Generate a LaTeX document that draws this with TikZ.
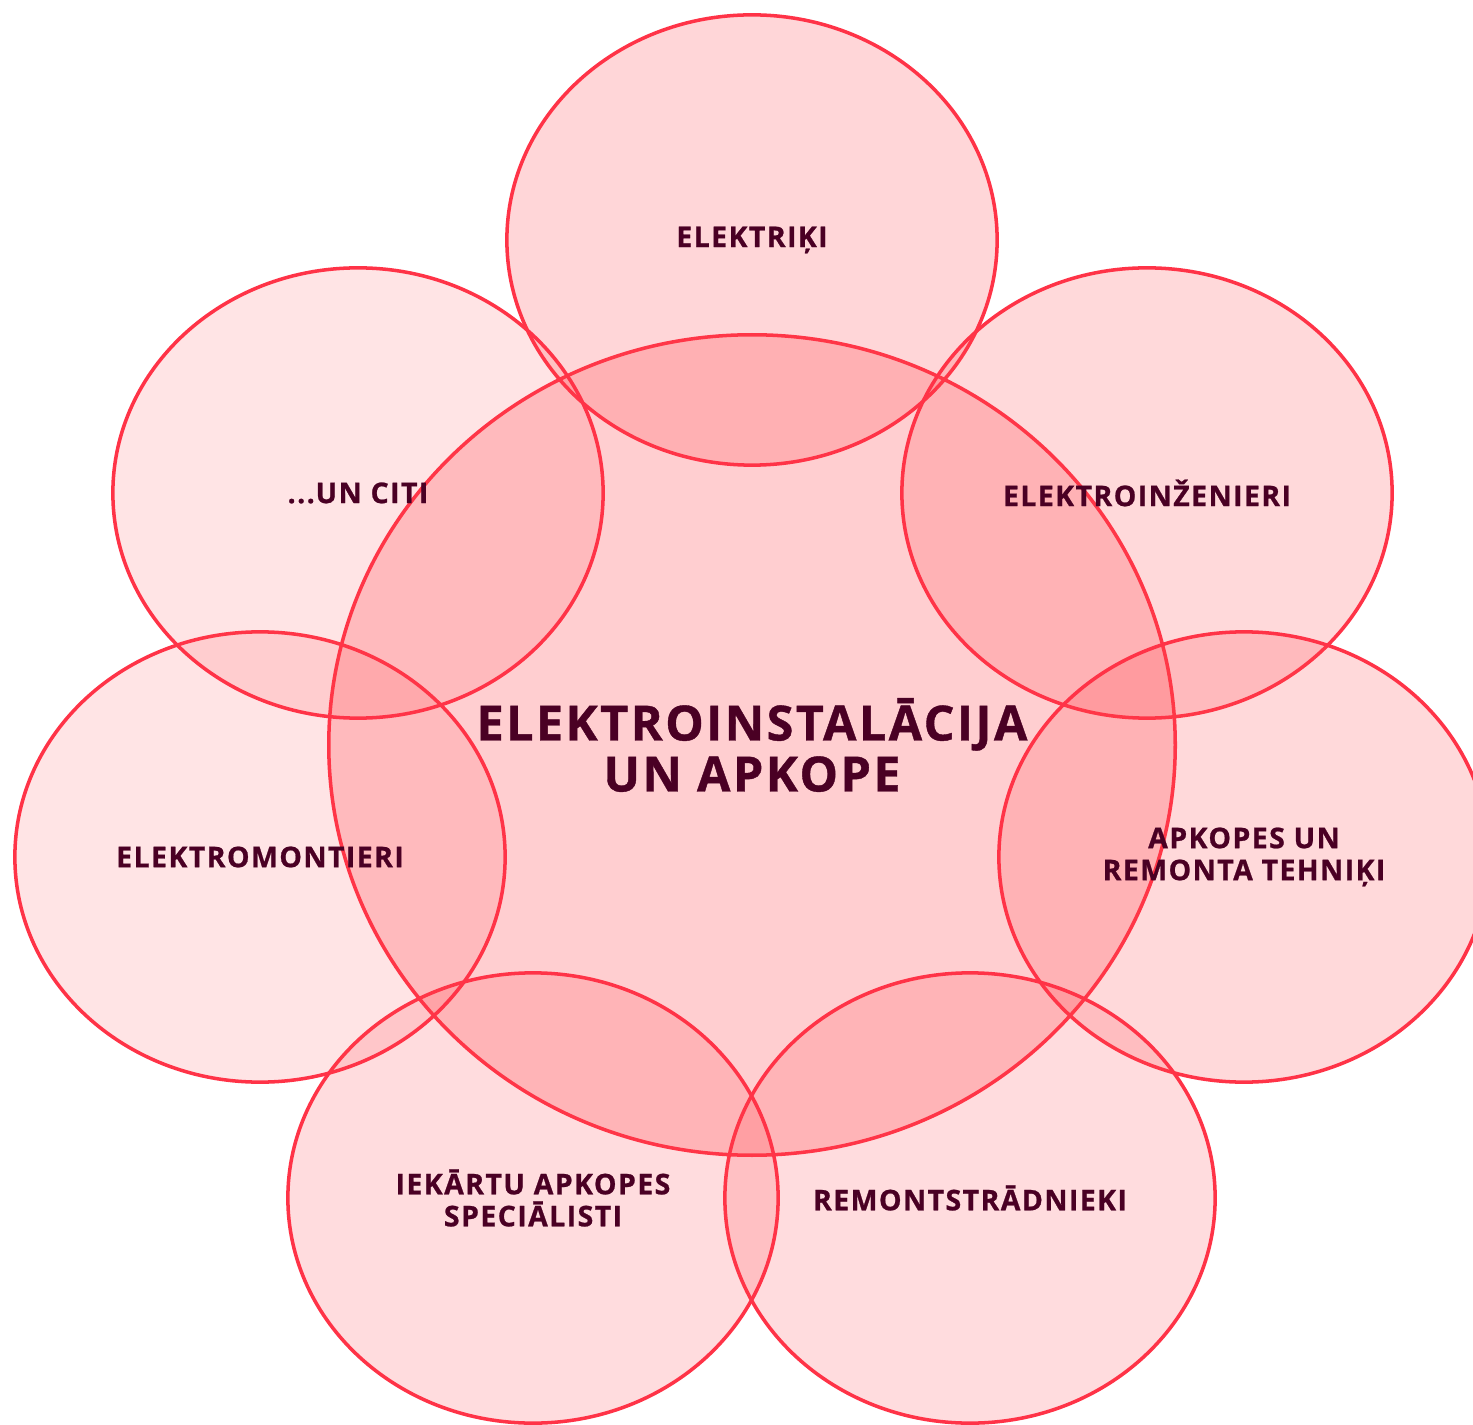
\documentclass[tikz,border=0pt]{standalone}
\usepackage{fontspec}
\setmainfont{Open Sans}[BoldFeatures={LetterSpace=5,FakeBold=0.8}]
\usepackage{xcolor}
\usetikzlibrary{shapes.geometric}

\definecolor{petalfill}{RGB}{255,66,74}
\definecolor{petalline}{RGB}{255,51,71}
\definecolor{labeltext}{RGB}{74,0,36}

\begin{document}
\begin{tikzpicture}[x=0.01cm,y=-0.01cm,line width=1pt,
  Petal/.style={ellipse,draw=petalline,fill=petalfill,text=labeltext,text opacity=1,
    align=center,inner sep=0pt,minimum width=4.9cm,minimum height=4.5cm,
    font=\fontsize{8.1}{9.1}\selectfont\bfseries},
  Core/.style={Petal,fill opacity=0.26,minimum width=8.46cm,minimum height=8.2cm,
    font=\fontsize{13.8}{14.5}\selectfont\bfseries}]

\fill[white] (0,0) rectangle (1473,1425);
\useasboundingbox (0,0) rectangle (1473,1425);

% centre
\node[Core] (CoreField) at (752,745) {ELEKTROINSTALĀCIJA\\UN APKOPE};

% petals, clockwise from the top
\node[Petal,fill opacity=0.21] (JobElektriki) at (752,240) {ELEKTRIĶI};
\node[Petal,fill opacity=0.2] (JobInzenieri) at (1147,493) {ELEKTROINŽENIERI};
\node[Petal,fill opacity=0.2] (JobTehniki) at (1244,857) {APKOPES UN\\REMONTA TEHNIĶI};
\node[Petal,fill opacity=0.18] (JobRemont) at (970,1198) {REMONTSTRĀDNIEKI};
\node[Petal,fill opacity=0.18] (JobIekartas) at (533,1198) {IEKĀRTU APKOPES\\SPECIĀLISTI};
\node[Petal,fill opacity=0.14] (JobMontieri) at (260,857) {ELEKTROMONTIERI};
\node[Petal,fill opacity=0.14] (JobCiti) at (358,493) {...UN CITI};

\end{tikzpicture}
\end{document}
